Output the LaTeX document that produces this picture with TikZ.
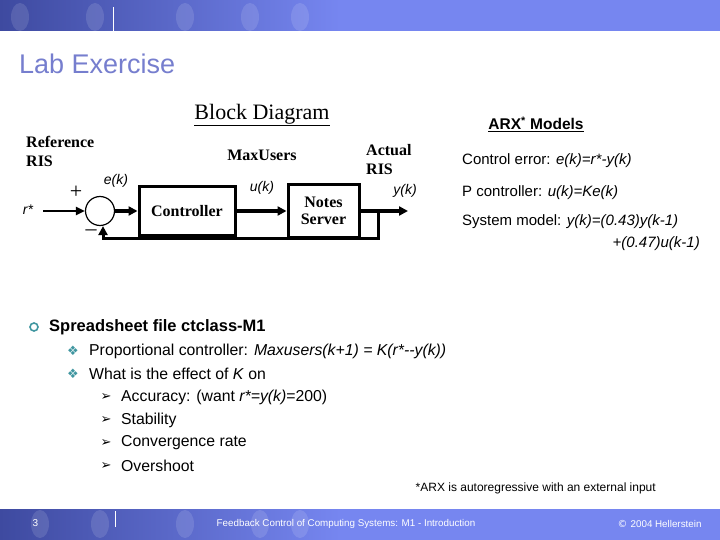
\documentclass[tikz,border=0pt]{standalone}
\usepackage{fontspec}
\setmainfont{Liberation Sans}
\newfontfamily\tnr{Liberation Serif}
\newfontfamily\symf{DejaVu Sans}
\usetikzlibrary{arrows.meta,positioning,calc}
\definecolor{banner}{RGB}{118,134,240}
\definecolor{bannerdark}{RGB}{62,74,160}
\definecolor{titleblue}{RGB}{118,126,206}
\definecolor{bullteal}{RGB}{64,150,160}

\begin{document}
\begin{tikzpicture}[x=1pt,y=-1pt,
    blk/.style={rectangle,draw,line width=3pt,font=\tnr\bfseries\fontsize{16}{17}\selectfont,align=center,inner sep=0pt},
    lbl/.style={font=\tnr\bfseries\fontsize{16}{19}\selectfont,align=left,inner sep=0pt},
    sig/.style={font=\itshape\fontsize{14}{16}\selectfont,inner sep=0pt},
    arr/.style={line width=3.6pt,-{Triangle[length=9pt,width=9pt]}},
    eqn/.style={anchor=west,font=\fontsize{15}{17}\selectfont,inner sep=0pt},
    txt/.style={anchor=west,font=\fontsize{15.8}{17}\selectfont,inner sep=0pt}]
  \useasboundingbox (0,0) rectangle (720,540);
  % header and footer bars
  \fill[banner] (0,0) rectangle (720,31);
  \shade[left color=bannerdark,right color=banner] (0,0) rectangle (340,31);
  \foreach \cx in {20,95,185,250,300}
    \fill[white,opacity=0.12] (\cx,17) ellipse (9 and 14);
  \draw[white,line width=0.8pt] (113,7) -- (113,31);
  \fill[banner] (0,509) rectangle (720,540);
  \shade[left color=bannerdark,right color=banner] (0,509) rectangle (340,540);
  \foreach \cx in {40,100,185,260,300}
    \fill[white,opacity=0.12] (\cx,524) ellipse (9 and 14);
  \draw[white,line width=0.8pt] (115,511) -- (115,527);
  \node[anchor=west,white,font=\fontsize{10}{12}\selectfont] (pg) at (29,523) {3};
  \node[white,font=\fontsize{9.8}{11}\selectfont] (foot) at (346,524) {Feedback Control of Computing Systems: M1 - Introduction};
  \node[anchor=east,white,font=\fontsize{9.8}{11}\selectfont] (copy) at (705,524) {\symf ©\ \rmfamily 2004 Hellerstein};

  \node[anchor=west,titleblue,font=\fontsize{27}{30}\selectfont,inner sep=0pt] (title) at (19,64) {Lab Exercise};

  % block diagram
  \node[font=\tnr\fontsize{22}{24}\selectfont,inner sep=0pt] (bd) at (262,115) {\underline{Block Diagram}};
  \node[lbl,anchor=north west] (ref) at (26,136) {Reference\\RIS};
  \node[lbl] (maxu) at (262,155) {MaxUsers};
  \node[lbl,anchor=north west] (act) at (366,144) {Actual\\RIS};
  \node[circle,draw,line width=1.2pt,minimum size=29pt,inner sep=0pt] (sum) at (100,211) {};
  \node[blk,minimum width=96pt,minimum height=48pt] (ctrl) at (187,211) {Controller};
  \node[blk,minimum width=71pt,minimum height=52pt] (srv) at (323.5,211) {Notes\\Server};
  \node[sig] (rs) at (28,210) {r*};
  \coordinate (rin) at (43,211);
  \coordinate (yout) at (408,211);
  \coordinate (tap) at (378,211);
  \coordinate (fbl) at (103,238);
  \node[font=\tnr\fontsize{22}{22}\selectfont,inner sep=0pt] (plus) at (76,192) {+};
  \node[font=\tnr\fontsize{22}{22}\selectfont,inner sep=0pt] (minus) at (91,233) {–};
  \node[sig] (ek) at (116,181) {e(k)};
  \node[sig] (uk) at (262,188) {u(k)};
  \node[sig] (yk) at (405,191) {y(k)};
  \draw[line width=2.4pt,-{Triangle[length=9pt,width=8pt]}] (rin) -- (sum.west);
  \draw[arr] (sum.east) -- (ctrl.west);
  \draw[arr] (ctrl.east) -- (srv.west);
  \draw[arr] (srv.east) -- (yout);
  \draw[line width=3pt,-{Triangle[length=9pt,width=9pt]}] (tap) |- (fbl) -- (fbl |- sum.south);

  % ARX models
  \node[font=\bfseries\fontsize{15.5}{17}\selectfont,inner sep=0pt] (arx) at (536,124) {\underline{ARX\textsuperscript{*} Models}};
  \node[eqn] (cerr) at (462,161) {Control error: \textit{e(k)=r*-y(k)}};
  \node[eqn] (pctl) at (462,193) {P controller: \textit{u(k)=Ke(k)}};
  \node[eqn] (sysm) at (462,222) {System model: \textit{y(k)=(0.43)y(k-1)}};
  \node[eqn,anchor=east] (sysm2) at (700,244) {\textit{+(0.47)u(k-1)}};

  % bullets
  \draw[bullteal,line width=1.6pt] (34,327) circle (4);
  \node[txt,font=\bfseries\fontsize{16.5}{19}\selectfont] (b1) at (49,327) {Spreadsheet file ctclass-M1};
  \foreach \yy/\nm/\tx in {351/b2/{Proportional controller: \textit{Maxusers(k+1) = K(r*{-}{-}y(k))}},
                           374/b3/{What is the effect of \textit{K} on}} {
    \node[bullteal,font=\symf\fontsize{13}{14}\selectfont,inner sep=0pt] at (73,\yy) {❖};
    \node[txt] (\nm) at (89,\yy) {\tx};
  }
  \foreach \yy/\nm/\tx in {397/c1/{Accuracy: (want \textit{r*=y(k)}=200)}, 420/c2/Stability,
                           443/c3/Convergence rate, 466/c4/Overshoot} {
    \node[font=\symf\fontsize{13}{14}\selectfont,inner sep=0pt] at (106,\yy) {➢};
    \node[txt] (\nm) at (121,\yy) {\tx};
  }
  \node[anchor=east,font=\fontsize{12}{14}\selectfont,inner sep=0pt] (note) at (656,488) {*ARX is autoregressive with an external input};
\end{tikzpicture}
\end{document}
